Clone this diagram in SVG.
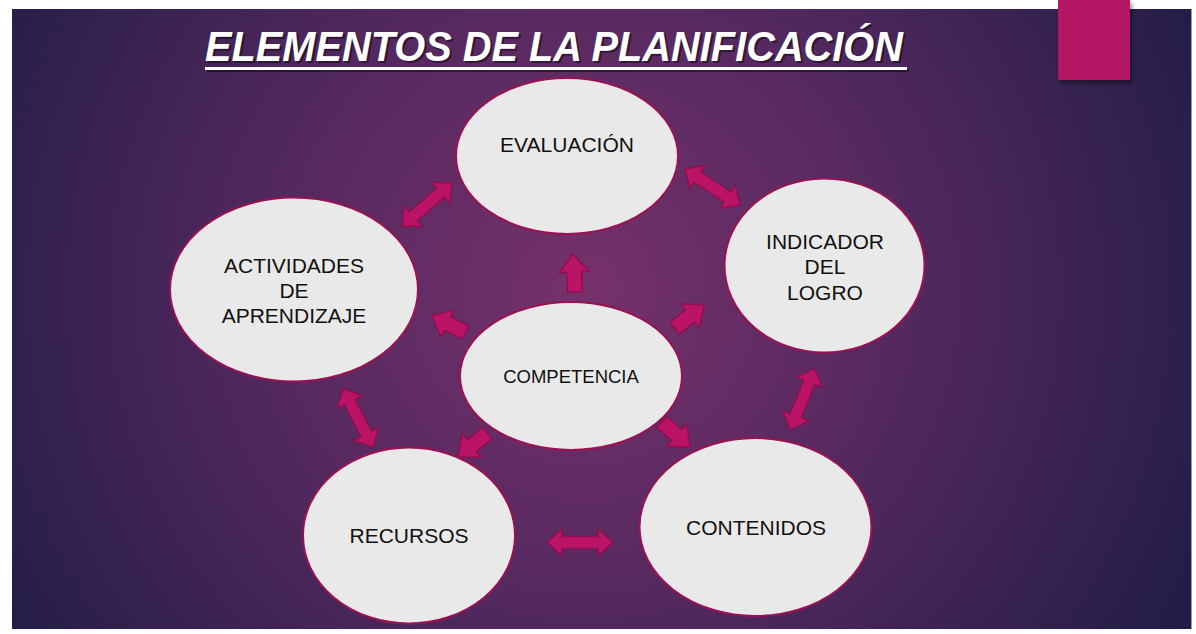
<svg xmlns="http://www.w3.org/2000/svg" width="1196" height="634" viewBox="0 0 1196 634">
<defs>
<radialGradient id="bg" gradientUnits="userSpaceOnUse" cx="585" cy="290" r="680">
<stop offset="0" stop-color="#76316b"/>
<stop offset="0.45" stop-color="#55295f"/>
<stop offset="1" stop-color="#221d46"/>
</radialGradient>
<filter id="sh" x="-20%" y="-20%" width="140%" height="140%">
<feDropShadow dx="2" dy="3" stdDeviation="2" flood-color="#000" flood-opacity="0.45"/>
</filter>
<path id="single" d="M-19,-7.5 H1 V-15 L19,0 L1,15 V7.5 H-19 Z"/>
<path id="double" d="M-33,0 L-18,-14 V-6 H18 V-14 L33,0 L18,14 V6 H-18 V14 Z"/>
</defs>
<style>
.node ellipse{fill:#e9e9e9;stroke:#9b1153;stroke-width:2}
.node text{font-family:"Liberation Sans",Arial,sans-serif;font-size:21px;fill:#111;text-anchor:middle}
.arrow{fill:#bb1466;stroke:#8c1050;stroke-width:1.5;stroke-linejoin:miter}
.title{font-family:"Liberation Sans",Arial,sans-serif;font-size:43px;font-weight:bold;font-style:italic}
</style>
<rect x="0" y="0" width="1196" height="634" fill="#ffffff"/>
<rect x="12" y="9" width="1179" height="620" fill="url(#bg)"/>
<rect x="1191" y="9" width="1" height="620" fill="#9a98b0"/>
<rect x="1058" y="0" width="72" height="80" fill="#b31462" filter="url(#sh)"/>
<g id="title">
<text class="title" x="207" y="63" textLength="698" lengthAdjust="spacingAndGlyphs" fill="#000" fill-opacity="0.45">ELEMENTOS DE LA PLANIFICACIÓN</text>
<rect x="207" y="69" width="702" height="3" fill="#000" fill-opacity="0.45"/>
<text class="title" x="205" y="61" textLength="698" lengthAdjust="spacingAndGlyphs" fill="#ffffff">ELEMENTOS DE LA PLANIFICACIÓN</text>
<rect x="205" y="67" width="702" height="3" fill="#ffffff"/>
</g>
<g id="connectors">
<use class="arrow" href="#double" transform="translate(427,204.5) rotate(-40.7)"/>
<use class="arrow" href="#double" transform="translate(712.5,187) rotate(33.2)"/>
<use class="arrow" href="#double" transform="translate(802.5,399) rotate(-68)"/>
<use class="arrow" href="#double" transform="translate(580,542.5)"/>
<use class="arrow" href="#double" transform="translate(358,418) rotate(62.6)"/>
<use class="arrow" href="#single" transform="translate(574,273) rotate(-93)"/>
<use class="arrow" href="#single" transform="translate(448.5,324) rotate(206)"/>
<use class="arrow" href="#single" transform="translate(689.5,316.5) rotate(-38.4)"/>
<use class="arrow" href="#single" transform="translate(472.5,445) rotate(142)"/>
<use class="arrow" href="#single" transform="translate(676,434.5) rotate(41.8)"/>
</g>
<g id="evaluacion" class="node">
<ellipse cx="567" cy="156" rx="111" ry="78"/>
<text x="567" y="152">EVALUACIÓN</text>
</g>
<g id="indicador" class="node">
<ellipse cx="824.5" cy="265.5" rx="100" ry="87"/>
<text x="825" y="249">INDICADOR</text>
<text x="825" y="274">DEL</text>
<text x="825" y="300">LOGRO</text>
</g>
<g id="actividades" class="node">
<ellipse cx="294" cy="289.5" rx="124" ry="92"/>
<text x="294" y="273">ACTIVIDADES</text>
<text x="294" y="298">DE</text>
<text x="294" y="323">APRENDIZAJE</text>
</g>
<g id="competencia" class="node">
<ellipse cx="571" cy="376" rx="111" ry="74"/>
<text x="571" y="383" style="font-size:18.5px">COMPETENCIA</text>
</g>
<g id="recursos" class="node">
<ellipse cx="409" cy="535.5" rx="106" ry="88"/>
<text x="409" y="543">RECURSOS</text>
</g>
<g id="contenidos" class="node">
<ellipse cx="755.5" cy="527" rx="116" ry="89"/>
<text x="756" y="535">CONTENIDOS</text>
</g>
</svg>
